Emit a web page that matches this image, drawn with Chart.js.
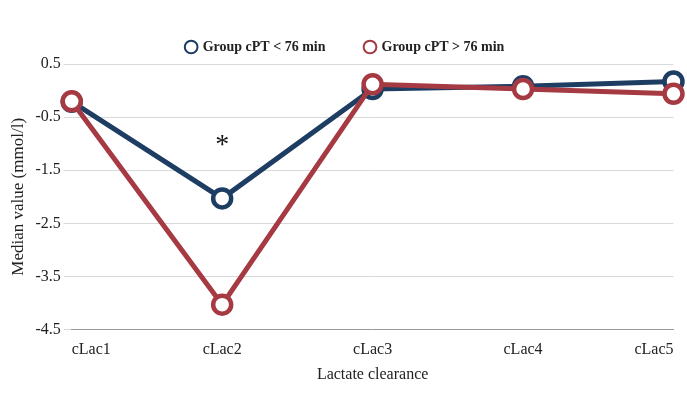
<!DOCTYPE html>
<html><head><script src="https://cdn.jsdelivr.net/npm/chart.js@4"></script>
<style>body{margin:0;background:#fff}#w{width:687px;height:400px}</style></head>
<body><div id="w"><canvas id="c"></canvas></div>
<script>
const categories=["cLac1","cLac2","cLac3","cLac4","cLac5"];
const groupLow=[-0.21,-2.03,0.03,0.08,0.17];
const groupHigh=[-0.2,-4.03,0.12,0.03,-0.06];
const yTicks=[0.5,-0.5,-1.5,-2.5,-3.5,-4.5];
const starAt={index:1,value:-0.95};
const F="'Liberation Serif', serif";
const star={id:'star',afterDatasetsDraw(ch){const c=ch.ctx;c.save();c.font="28px "+F;c.fillStyle="#111";c.textAlign="center";c.textBaseline="middle";c.fillText("*",ch.scales.x.getPixelForValue(starAt.index),ch.scales.y.getPixelForValue(starAt.value)+5);c.restore();}};
const ds=(l,d,col)=>({label:l,data:d,borderColor:col,backgroundColor:'#fff',borderWidth:5,pointRadius:9,pointBorderWidth:4.5,pointBackgroundColor:'#fff',pointBorderColor:col,tension:0});
new Chart(document.getElementById('c'),{type:'line',plugins:[star],
data:{labels:categories,datasets:[ds("Group cPT > 76 min",groupHigh,'#a63a42'),ds("Group cPT < 76 min",groupLow,'#1d3d63')]},
options:{responsive:true,maintainAspectRatio:false,animation:false,
layout:{padding:{left:4,right:0,top:0,bottom:14}},
plugins:{legend:{reverse:true,labels:{usePointStyle:true,pointStyle:'circle',boxWidth:9,boxHeight:9,padding:40,font:{family:F,size:14,weight:'bold'},color:'#222',generateLabels(ch){return Chart.defaults.plugins.legend.labels.generateLabels(ch).map(i=>({...i,lineWidth:2}));}}},tooltip:{enabled:false}},
scales:{x:{offset:false,grid:{display:false},border:{color:'#999'},ticks:{font:{family:F,size:16},color:'#222',align:'inner'},title:{display:true,text:'Lactate clearance',font:{family:F,size:16},color:'#222',padding:2}},
y:{min:-4.5,max:0.5,afterBuildTicks(a){a.ticks=yTicks.map(v=>({value:v}));},grid:{color:'#d9d9d9'},border:{display:false},ticks:{font:{family:F,size:16},color:'#222',callback:v=>String(v)},title:{display:true,text:'Median value (mmol/l)',font:{family:F,size:17},color:'#222'}}}}});
</script></body></html>
